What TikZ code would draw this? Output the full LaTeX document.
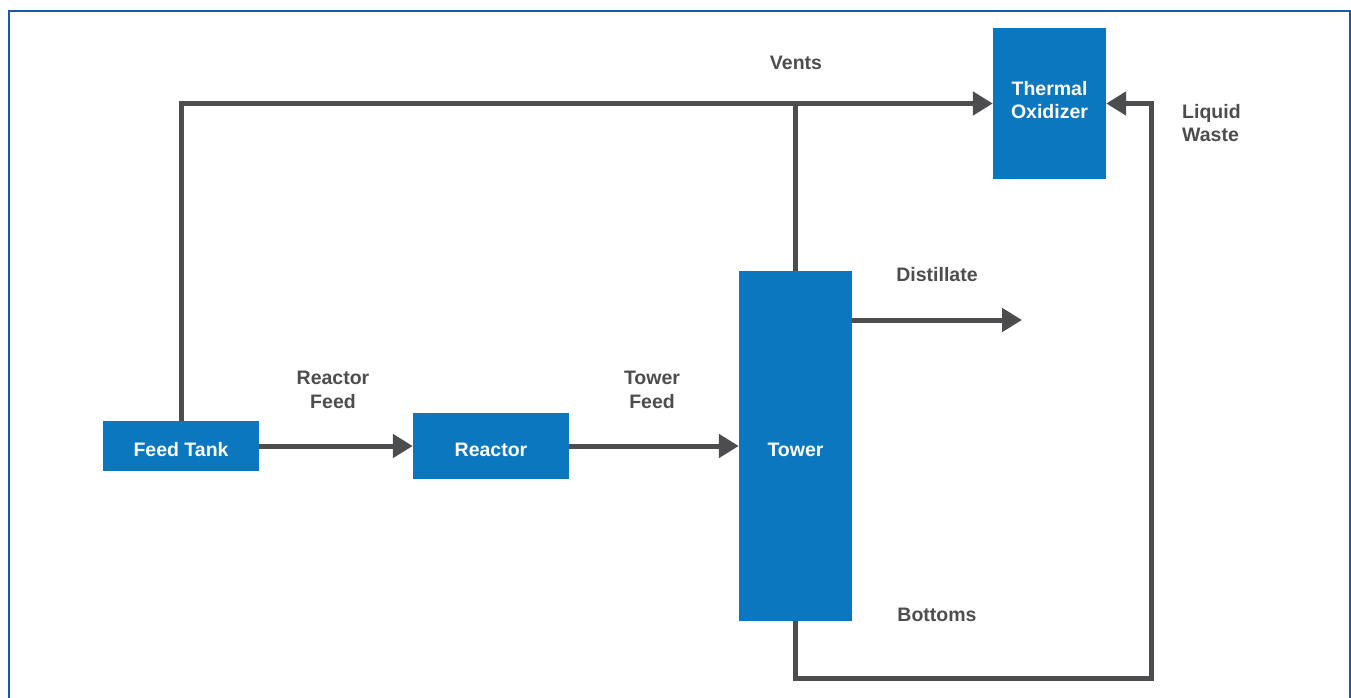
\documentclass[tikz,border=0pt]{standalone}
\usepackage{fontspec}
\setmainfont{Liberation Sans}
\usetikzlibrary{arrows.meta,calc}
\definecolor{boxblue}{HTML}{0A77BE}
\definecolor{linegray}{HTML}{4D4D4F}
\definecolor{frameblue}{HTML}{1F5AA0}
\begin{document}
\begin{tikzpicture}[x=1pt,y=-1pt,
  unit/.style={fill=boxblue,draw=none,text=white,font=\bfseries\fontsize{19.5}{23.5}\selectfont,inner sep=0pt,align=center},
  oneline/.style={text height=20pt,text depth=0pt},
  flow/.style={draw=linegray,line width=5pt,line join=miter,-{Triangle[length=20pt,width=23pt]}},
  pipe/.style={draw=linegray,line width=5pt,line join=miter},
  lbl/.style={text=linegray,font=\bfseries\fontsize{19.5}{23.5}\selectfont,inner sep=0pt,align=center}]
\useasboundingbox (0,0) rectangle (1351,698);
\draw[frameblue,line width=2pt] (9,699) -- (9,11) -- (1350,11) -- (1350,699);
% units
\node[unit,oneline,minimum width=156pt,minimum height=50pt] (ft) at (181,446) {Feed Tank};
\node[unit,oneline,minimum width=156pt,minimum height=66pt] (re) at (491,446) {Reactor};
\node[unit,oneline,minimum width=113pt,minimum height=350pt] (tw) at (795.5,446) {Tower};
\node[unit,minimum width=113pt,minimum height=151pt] (to) at (1049.5,103.5) {};
\node[unit,fill=none] (tot) at (1049.5,100) {Thermal\\Oxidizer};
% coordinates
\coordinate (dend) at (1022,320);
\coordinate (b1) at (795.5,678);
\coordinate (b2) at (1151,678);
% connectors
\draw[flow] (ft.north) |- (to.west);
\draw[pipe] (tw.north) -- (tw.north |- to.west);
\draw[flow] (ft.east) -- (re.west);
\draw[flow] (re.east) -- (tw.west);
\draw[flow] (tw.east |- dend) -- (dend);
\draw[flow] (tw.south) -- (b1) -- (b2) |- (to.east);
% labels
\node[lbl] (lv) at (796,63) {Vents};
\node[lbl,align=left,anchor=west] (llw) at (1182,123) {Liquid\\Waste};
\node[lbl] (ld) at (937,275) {Distillate};
\node[lbl] (lrf) at (333,390) {Reactor\\Feed};
\node[lbl] (ltf) at (652,390) {Tower\\Feed};
\node[lbl] (lb) at (937,615) {Bottoms};
\end{tikzpicture}
\end{document}
